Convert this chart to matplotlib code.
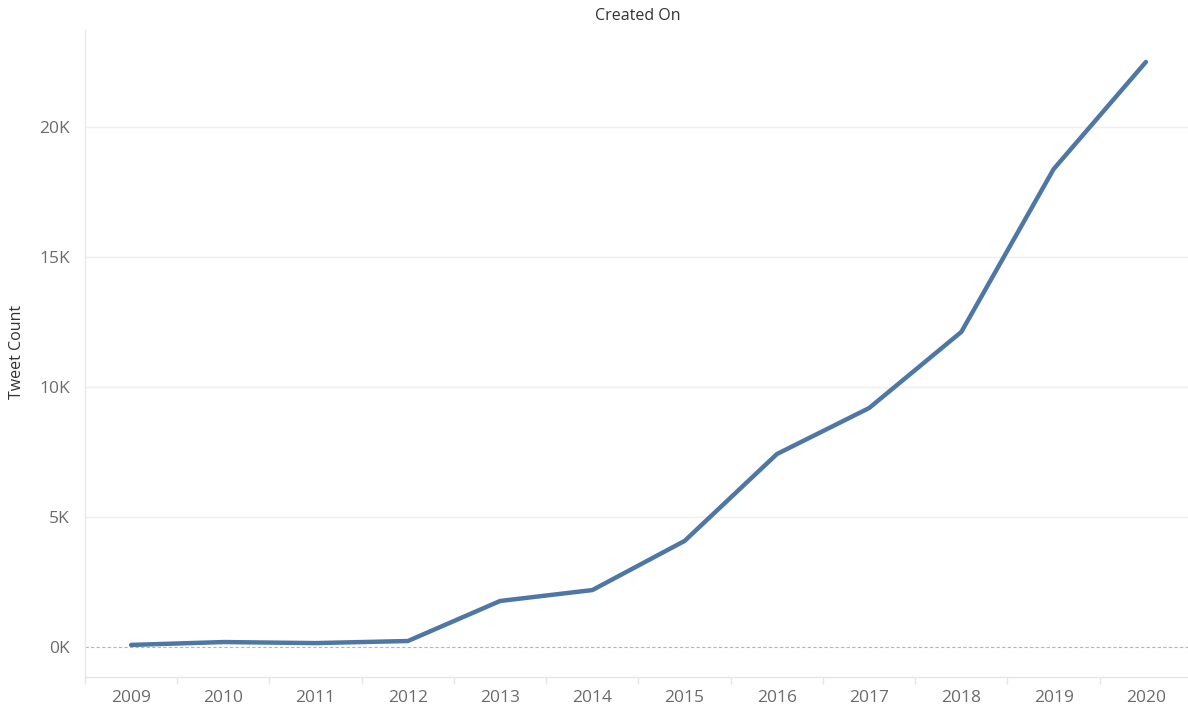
import matplotlib
matplotlib.use("Agg")
import matplotlib.pyplot as plt
from matplotlib.ticker import FuncFormatter, FixedLocator

years = ["2009", "2010", "2011", "2012", "2013", "2014", "2015", "2016", "2017", "2018", "2019", "2020"]
tweet_counts = [80, 190, 150, 230, 1770, 2190, 4080, 7420, 9190, 12120, 18380, 22500]
y_ticks = [0, 5000, 10000, 15000, 20000]

plt.rcParams['font.family'] = ['Open Sans', 'DejaVu Sans']

W, H = 1188, 709
fig = plt.figure(figsize=(W / 100, H / 100), dpi=100)
ax = fig.add_axes([85 / W, 32 / H, 1107 / W, 647 / H])

x = list(range(len(years)))
ax.plot(x, tweet_counts, color="#4e77a5", linewidth=3.2, solid_capstyle="round", solid_joinstyle="round", zorder=3)

ax.set_xlim(-0.5, len(years) - 0.5)
ax.set_ylim(-1154, 23730)

ax.set_yticks(y_ticks)
ax.yaxis.set_major_formatter(FuncFormatter(lambda v, p: f"{int(v/1000)}K"))
for yt in y_ticks[1:]:
    ax.axhline(yt, color="#efefef", linewidth=1.0, zorder=1)
ax.axhline(0, color="#b5b5b5", linewidth=0.8, linestyle=(0, (3, 2)), zorder=2)

ax.set_xticks(x)
ax.set_xticklabels(years)
ax.xaxis.set_minor_locator(FixedLocator([i - 0.5 for i in range(len(years) + 1)]))

ax.tick_params(axis="x", which="major", length=0, pad=9, labelsize=12.5, labelcolor="#6b6b6b")
ax.tick_params(axis="x", which="minor", length=5, width=1, color="#e6e6e6", direction="out")
ax.tick_params(axis="y", which="major", length=0, pad=11, labelsize=12.5, labelcolor="#6b6b6b")

for s in ["top", "right"]:
    ax.spines[s].set_visible(False)
ax.spines["left"].set_color("#eaeaea")
ax.spines["bottom"].set_color("#e6e6e6")
ax.spines["left"].set_linewidth(1)
ax.spines["bottom"].set_linewidth(1)

fig.text(17 / W, 1 - 352 / H, "Tweet Count", rotation=90, ha="center", va="center", fontsize=11.5, color="#333333")
fig.text(638 / W, 1 - 16 / H, "Created On", ha="center", va="center", fontsize=11.5, color="#333333")

fig.savefig("out.png", dpi=100, facecolor="white")
